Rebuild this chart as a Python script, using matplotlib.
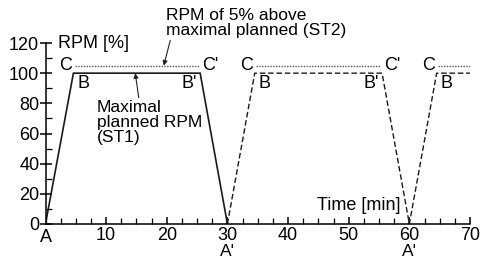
import matplotlib
matplotlib.use("Agg")
import matplotlib.pyplot as plt
import matplotlib.transforms as mtransforms
from matplotlib.ticker import MultipleLocator, FixedLocator

plt.rcParams['font.family'] = ['Liberation Sans', 'DejaVu Sans']
plt.rcParams['font.size'] = 12

# ST1 - maximal planned RPM (first cycle solid, later dashed)
st1_time = [0, 4.6, 25.5, 30]
st1_rpm = [0, 100, 100, 0]
st1b_time = [30, 34.5, 55.5, 60, 64.5, 70]
st1b_rpm = [0, 100, 100, 0, 100, 100]

# ST2 - 5% above maximal planned
st2_time = [[4.8, 25.3], [34.7, 55.3], [64.7, 70]]
st2_rpm = 105

x_ticks = [10, 20, 30, 40, 50, 60, 70]
y_ticks = [0, 20, 40, 60, 80, 100, 120]

fig = plt.figure(figsize=(4.82, 2.61), dpi=100)
ax = fig.add_axes([45.5 / 482, 1 - 224 / 261, (470 - 45.5) / 482, (224 - 43) / 261])

ax.plot(st1_time, st1_rpm, color='#1a1a1a', lw=1.2, solid_joinstyle='miter')
ax.plot(st1b_time, st1b_rpm, color='#1a1a1a', lw=1.0, ls=(0, (4, 2)))
for seg in st2_time:
    ax.plot(seg, [st2_rpm, st2_rpm], color='#555555', lw=1.0, ls=(0, (1, 1)))

ax.set_xlim(0, 70)
ax.set_ylim(0, 120)
ax.spines[['right', 'top']].set_visible(False)
ax.spines[['left', 'bottom']].set_linewidth(1.1)

ax.xaxis.set_major_locator(FixedLocator(x_ticks))
ax.xaxis.set_minor_locator(MultipleLocator(2.5))
ax.yaxis.set_major_locator(FixedLocator(y_ticks))
ax.yaxis.set_minor_locator(MultipleLocator(10))
ax.tick_params(axis='x', which='major', direction='in', length=5, width=1.1, pad=2, labelsize=13)
ax.tick_params(axis='x', which='minor', direction='in', length=4, width=0.9)
ax.tick_params(axis='y', which='major', direction='inout', length=8, width=1.1, pad=0.5, labelsize=13)
ax.tick_params(axis='y', which='minor', direction='in', length=4, width=0.9)

ax.set_xticklabels([str(v) for v in x_ticks])

# point labels
trans = mtransforms.blended_transform_factory(ax.transData, ax.transAxes)
ax.text(0, -0.03, 'A', transform=trans, ha='center', va='top', fontsize=13)
for xa in [30, 60]:
    ax.text(xa, -0.112, "A'", transform=trans, ha='center', va='top', fontsize=12.5)

for xc in [4.6, 34.5, 64.5]:
    ax.text(xc - 0.3, st2_rpm, 'C', ha='right', va='center', fontsize=13)
    ax.text(xc + 0.6, 99, 'B', ha='left', va='top', fontsize=13)
for xc in [25.5, 55.5]:
    ax.text(xc + 0.3, st2_rpm, "C'", ha='left', va='center', fontsize=13)
    ax.text(xc - 0.6, 99, "B'", ha='right', va='top', fontsize=13)

ax.text(2.0, 120, 'RPM [%]', ha='left', va='center', fontsize=13)
ax.text(44.8, 12, 'Time [min]', ha='left', va='center', fontsize=13)

ax.annotate('RPM of 5% above\nmaximal planned (ST2)', xy=(19.5, st2_rpm), xytext=(19.8, 133.5),
            ha='left', va='center', fontsize=12.5, linespacing=1.0, annotation_clip=False,
            arrowprops=dict(arrowstyle='-|>', color='#222222', lw=0.8,
                            mutation_scale=7, shrinkA=0, shrinkB=0,
                            relpos=(0.03, 0.0)))
ax.annotate('Maximal\nplanned RPM\n(ST1)', xy=(14.8, 100), xytext=(8.5, 67),
            ha='left', va='center', fontsize=12.5, linespacing=1.0,
            arrowprops=dict(arrowstyle='-|>', color='#222222', lw=0.8,
                            mutation_scale=7, shrinkA=0, shrinkB=0,
                            relpos=(0.4, 1.0)))

fig.savefig('out.png', dpi=100)
